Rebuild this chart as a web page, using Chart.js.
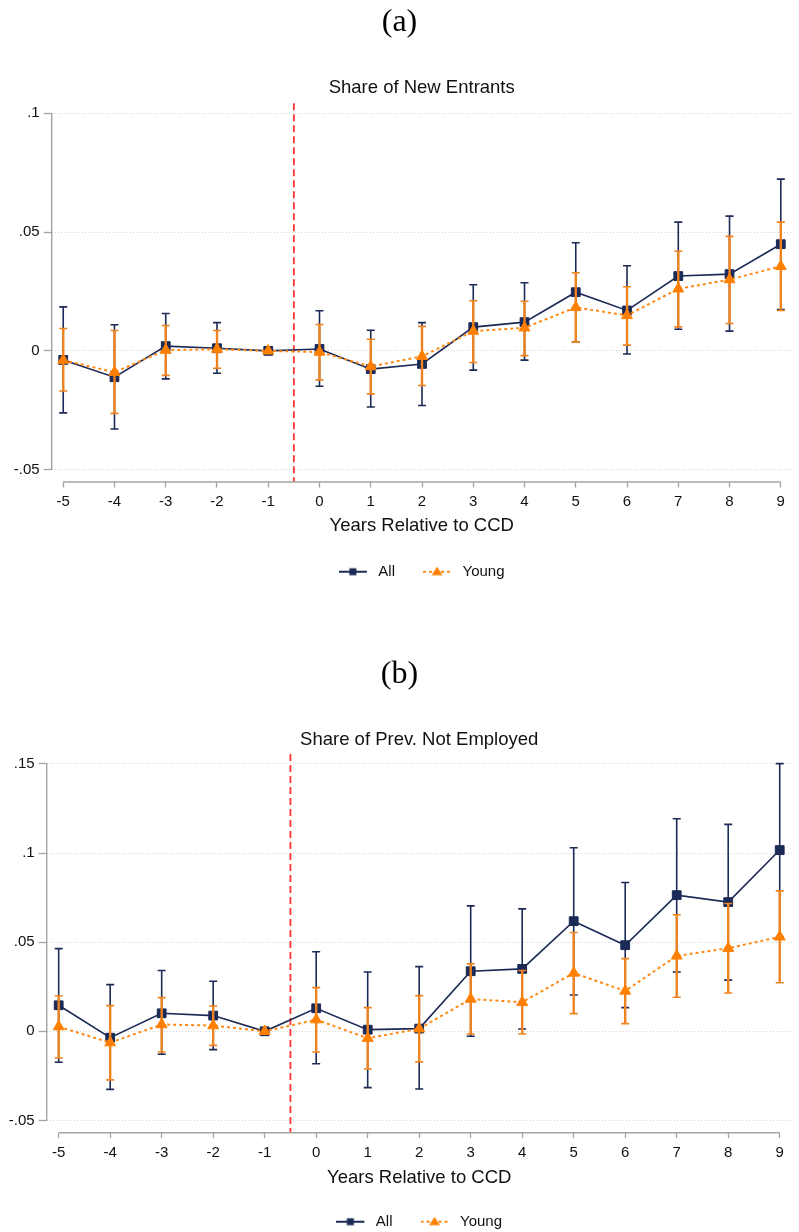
<!DOCTYPE html>
<html><head><meta charset="utf-8">
<script src="https://cdn.jsdelivr.net/npm/chart.js@4"></script>
<style>
html,body{margin:0;padding:0;background:#fff;width:799px;height:1232px;overflow:hidden;}
.panel{position:absolute;left:0;width:799px;text-align:center;font-family:"Liberation Serif","DejaVu Serif",serif;font-size:32px;line-height:32px;color:#000;z-index:5;}
#wrapA{position:absolute;left:0;top:0;width:799px;height:620px;}
#wrapB{position:absolute;left:0;top:620px;width:799px;height:612px;}
</style></head><body>
<div class="panel" style="top:4px">(a)</div>
<div class="panel" style="top:656px">(b)</div>
<div id="wrapA"><canvas id="cA" width="799" height="620"></canvas></div>
<div id="wrapB"><canvas id="cB" width="799" height="612"></canvas></div>
<script>
// ---------- data ----------
const years = [-5,-4,-3,-2,-1,0,1,2,3,4,5,6,7,8,9];
const xTickLabels = ['-5','-4','-3','-2','-1','0','1','2','3','4','5','6','7','8','9'];
const eventYear = -0.5;

// Panel (a): Share of New Entrants
const titleA = 'Share of New Entrants';
const yTicksA = [-0.05, 0, 0.05, 0.1];
const yTickLabelsA = ['-.05', '0', '.05', '.1'];
const allA     = [-0.0038,-0.0111, 0.0020, 0.0011, 0, 0.0008,-0.0077,-0.0055, 0.0100, 0.0121, 0.0247, 0.0170, 0.0315, 0.0323, 0.0449];
const allA_lo  = [-0.0261,-0.0329,-0.0118,-0.0094, 0,-0.0149,-0.0236,-0.0230,-0.0081,-0.0039, 0.0037,-0.0013, 0.0091, 0.0083, 0.0174];
const allA_hi  = [ 0.0185, 0.0110, 0.0157, 0.0119, 0, 0.0169, 0.0087, 0.0119, 0.0278, 0.0287, 0.0455, 0.0358, 0.0542, 0.0567, 0.0723];
const youngA    = [-0.0039,-0.0090, 0.0003, 0.0007, 0,-0.0005,-0.0066,-0.0023, 0.0083, 0.0097, 0.0183, 0.0149, 0.0261, 0.0300, 0.0356];
const youngA_lo = [-0.0169,-0.0263,-0.0103,-0.0073, 0,-0.0122,-0.0181,-0.0146,-0.0049,-0.0020, 0.0037, 0.0024, 0.0101, 0.0115, 0.0170];
const youngA_hi = [ 0.0094, 0.0086, 0.0107, 0.0086, 0, 0.0111, 0.0049, 0.0103, 0.0211, 0.0209, 0.0329, 0.0270, 0.0419, 0.0482, 0.0542];

// Panel (b): Share of Prev. Not Employed
const titleB = 'Share of Prev. Not Employed';
const yTicksB = [-0.05, 0, 0.05, 0.1, 0.15];
const yTickLabelsB = ['-.05', '0', '.05', '.1', '.15'];
const allB     = [ 0.0146,-0.0036, 0.0101, 0.0088, 0, 0.0129, 0.0009, 0.0015, 0.0337, 0.0350, 0.0618, 0.0483, 0.0764, 0.0725, 0.1017];
const allB_lo  = [-0.0174,-0.0326,-0.0129,-0.0103, 0,-0.0182,-0.0316,-0.0324,-0.0028, 0.0013, 0.0204, 0.0133, 0.0333, 0.0287, 0.0532];
const allB_hi  = [ 0.0464, 0.0262, 0.0341, 0.0281, 0, 0.0446, 0.0333, 0.0363, 0.0704, 0.0687, 0.1030, 0.0835, 0.1193, 0.1161, 0.1502];
const youngB    = [ 0.0026,-0.0064, 0.0038, 0.0032, 0, 0.0065,-0.0039, 0.0014, 0.0181, 0.0163, 0.0327, 0.0226, 0.0423, 0.0466, 0.0530];
const youngB_lo = [-0.0150,-0.0273,-0.0116,-0.0079, 0,-0.0116,-0.0212,-0.0172,-0.0015,-0.0015, 0.0099, 0.0043, 0.0191, 0.0215, 0.0272];
const youngB_hi = [ 0.0199, 0.0144, 0.0189, 0.0142, 0, 0.0245, 0.0133, 0.0200, 0.0378, 0.0341, 0.0554, 0.0408, 0.0654, 0.0717, 0.0788];

const seriesNames = ['All', 'Young'];
const xTitle = 'Years Relative to CCD';

// ---------- styles ----------
const FONT = '"Liberation Sans", Arial, Helvetica, sans-serif';
const NAVY = '#1b2a56';
const ORANGE = '#ff8000';
const ORANGE_LINE = '#ff8a16';
const ORANGE_CI = '#ee8320';
const AXIS = '#a4a4a4';
const GRID = '#d2d2d2';
const TEXT = '#111111';
Chart.defaults.font.family = FONT;
Chart.defaults.color = TEXT;

function pts(vals){ return years.map((x,i)=>({x:x, y:vals[i]})); }

function legendImage(kind){
  const c = document.createElement('canvas');
  c.width = 32; c.height = 14;
  const g = c.getContext('2d');
  g.lineWidth = 2;
  if (kind === 'all') {
    g.strokeStyle = NAVY;
    g.beginPath(); g.moveTo(0,7); g.lineTo(28,7); g.stroke();
    g.fillStyle = NAVY; g.fillRect(10.5,3.5,7,7);
  } else {
    g.strokeStyle = ORANGE_LINE; g.setLineDash([3,3]);
    g.beginPath(); g.moveTo(0,7); g.lineTo(28,7); g.stroke();
    g.fillStyle = ORANGE;
    g.beginPath(); g.moveTo(14,2); g.lineTo(19.5,10.5); g.lineTo(8.5,10.5); g.closePath(); g.fill();
  }
  return c;
}
const legendImgs = [legendImage('all'), legendImage('young')];

const ciPlugin = {
  id: 'ciBars',
  beforeDatasetDraw(chart, args){
    const ds = chart.data.datasets[args.index];
    if (!ds.ciLo) return;
    const xs = chart.scales.x, ys = chart.scales.y, ctx = chart.ctx;
    ctx.save();
    ctx.strokeStyle = ds.ciColor;
    for (let i = 0; i < years.length; i++) {
      const lo = ds.ciLo[i], hi = ds.ciHi[i];
      if (lo === hi) continue;
      const px = xs.getPixelForValue(years[i]);
      const pl = ys.getPixelForValue(lo), ph = ys.getPixelForValue(hi);
      ctx.lineWidth = ds.ciWidth;
      ctx.beginPath(); ctx.moveTo(px, pl); ctx.lineTo(px, ph); ctx.stroke();
      ctx.lineWidth = ds.capWidth;
      ctx.beginPath();
      ctx.moveTo(px - 4, pl); ctx.lineTo(px + 4, pl);
      ctx.moveTo(px - 4, ph); ctx.lineTo(px + 4, ph);
      ctx.stroke();
    }
    ctx.restore();
  }
};

const axesPlugin = {
  id: 'stataAxes',
  beforeDatasetsDraw(chart, args, opts){
    const {ctx, chartArea} = chart;
    const xs = chart.scales.x, ys = chart.scales.y;
    ctx.save();
    // event line
    ctx.strokeStyle = '#ff3434';
    ctx.lineWidth = 1.8;
    ctx.setLineDash([7,4]);
    const ex = xs.getPixelForValue(eventYear);
    ctx.beginPath(); ctx.moveTo(ex, chartArea.top); ctx.lineTo(ex, chartArea.bottom); ctx.stroke();
    // axes
    ctx.setLineDash([]);
    ctx.strokeStyle = AXIS;
    ctx.lineWidth = 1.4;
    const yt = opts.yTicks;
    ctx.beginPath();
    ctx.moveTo(chartArea.left, ys.getPixelForValue(yt[yt.length-1]));
    ctx.lineTo(chartArea.left, ys.getPixelForValue(yt[0]));
    ctx.stroke();
    ctx.beginPath();
    ctx.moveTo(xs.getPixelForValue(years[0]), chartArea.bottom);
    ctx.lineTo(xs.getPixelForValue(years[years.length-1]), chartArea.bottom);
    ctx.stroke();
    ctx.restore();
  }
};

function makeChart(id, cfg){
  const datasets = [
    {
      label: seriesNames[0], data: pts(cfg.all), order: 1,
      borderColor: NAVY, backgroundColor: NAVY, borderWidth: 1.6,
      pointStyle: 'rect', pointRadius: 6.2, pointBorderWidth: 1,
      pointBackgroundColor: NAVY, pointBorderColor: NAVY,
      ciLo: cfg.allLo, ciHi: cfg.allHi, ciColor: NAVY, ciWidth: 1.6, capWidth: 1.6,
      legendImg: legendImgs[0]
    },
    {
      label: seriesNames[1], data: pts(cfg.young), order: 0,
      borderColor: ORANGE_LINE, backgroundColor: ORANGE, borderWidth: 2, borderDash: [3,3],
      pointStyle: 'triangle', pointRadius: 6.3, pointBorderWidth: 1,
      pointBackgroundColor: ORANGE, pointBorderColor: ORANGE,
      ciLo: cfg.youngLo, ciHi: cfg.youngHi, ciColor: ORANGE_CI, ciWidth: 2.4, capWidth: 1.6,
      legendImg: legendImgs[1]
    }
  ];
  return new Chart(document.getElementById(id), {
    type: 'line',
    data: { datasets },
    plugins: [ciPlugin, axesPlugin],
    options: {
      responsive: false,
      animation: false,
      events: [],
      layout: { padding: cfg.pad },
      plugins: {
        stataAxes: { yTicks: cfg.yTicks },
        tooltip: { enabled: false },
        title: {
          display: true, text: cfg.title, fullSize: false,
          font: { size: 18.5, weight: 'normal', family: FONT }, color: TEXT,
          padding: { top: 0, bottom: cfg.titlePadBottom }
        },
        legend: {
          display: true, position: 'bottom', fullSize: false,
          labels: {
            usePointStyle: true, pointStyleWidth: 32, padding: 28,
            font: { size: 15, family: FONT }, color: TEXT,
            generateLabels(chart){
              return chart.data.datasets.map((ds, i) => ({
                text: ds.label, pointStyle: ds.legendImg, fillStyle: 'rgba(0,0,0,0)',
                strokeStyle: 'rgba(0,0,0,0)', lineWidth: 0, hidden: false,
                datasetIndex: i, fontColor: TEXT
              }));
            }
          }
        }
      },
      scales: {
        x: {
          type: 'linear', min: cfg.xMin, max: cfg.xMax,
          afterBuildTicks(s){ s.ticks = years.map(v => ({ value: v })); },
          ticks: {
            autoSkip: false, maxRotation: 0, padding: 5.5,
            font: { size: 15, family: FONT }, color: TEXT,
            callback(v){ const i = years.indexOf(v); return i >= 0 ? xTickLabels[i] : ''; }
          },
          grid: { drawOnChartArea: false, drawTicks: true, tickLength: 5.5, tickColor: AXIS, tickWidth: 1.3 },
          border: { display: false },
          title: {
            display: true, text: xTitle, color: TEXT,
            font: { size: 18.5, family: FONT }, padding: { top: cfg.xTitleTop, bottom: cfg.xTitleBottom }
          }
        },
        y: {
          type: 'linear', min: cfg.yMin, max: cfg.yMax,
          afterBuildTicks(s){ s.ticks = cfg.yTicks.map(v => ({ value: v })); },
          afterFit(s){ s.width = cfg.yWidth; },
          ticks: {
            padding: 4, font: { size: 15, family: FONT }, color: TEXT,
            callback(v){
              for (let i = 0; i < cfg.yTicks.length; i++) if (Math.abs(cfg.yTicks[i] - v) < 1e-9) return cfg.yTickLabels[i];
              return '';
            }
          },
          grid: { color: GRID, lineWidth: 1, drawTicks: true, tickLength: 8, tickColor: AXIS, tickWidth: 1.3 },
          border: { display: false, dash: [1, 2] }
        }
      }
    }
  });
}

makeChart('cA', {
  title: titleA, all: allA, allLo: allA_lo, allHi: allA_hi,
  young: youngA, youngLo: youngA_lo, youngHi: youngA_hi,
  yTicks: yTicksA, yTickLabels: yTickLabelsA,
  yMin: -0.05519, yMax: 0.1042, xMin: -5.225, xMax: 9.213, yWidth: 51.7,
  pad: { top: 76.9, bottom: 30.8, left: 0, right: 2 }, titlePadBottom: 4.2,
  xTitleTop: -1.9, xTitleBottom: -0.6
});
makeChart('cB', {
  title: titleB, all: allB, allLo: allB_lo, allHi: allB_hi,
  young: youngB, youngLo: youngB_lo, youngHi: youngB_hi,
  yTicks: yTicksB, yTickLabels: yTickLabelsB,
  yMin: -0.05692, yMax: 0.15561, xMin: -5.2326, xMax: 9.2326, yWidth: 46.7,
  pad: { top: 108.9, bottom: -7.2, left: 0, right: 6 }, titlePadBottom: 2.9,
  xTitleTop: -0.3, xTitleBottom: -2.9
});
</script>
</body></html>
